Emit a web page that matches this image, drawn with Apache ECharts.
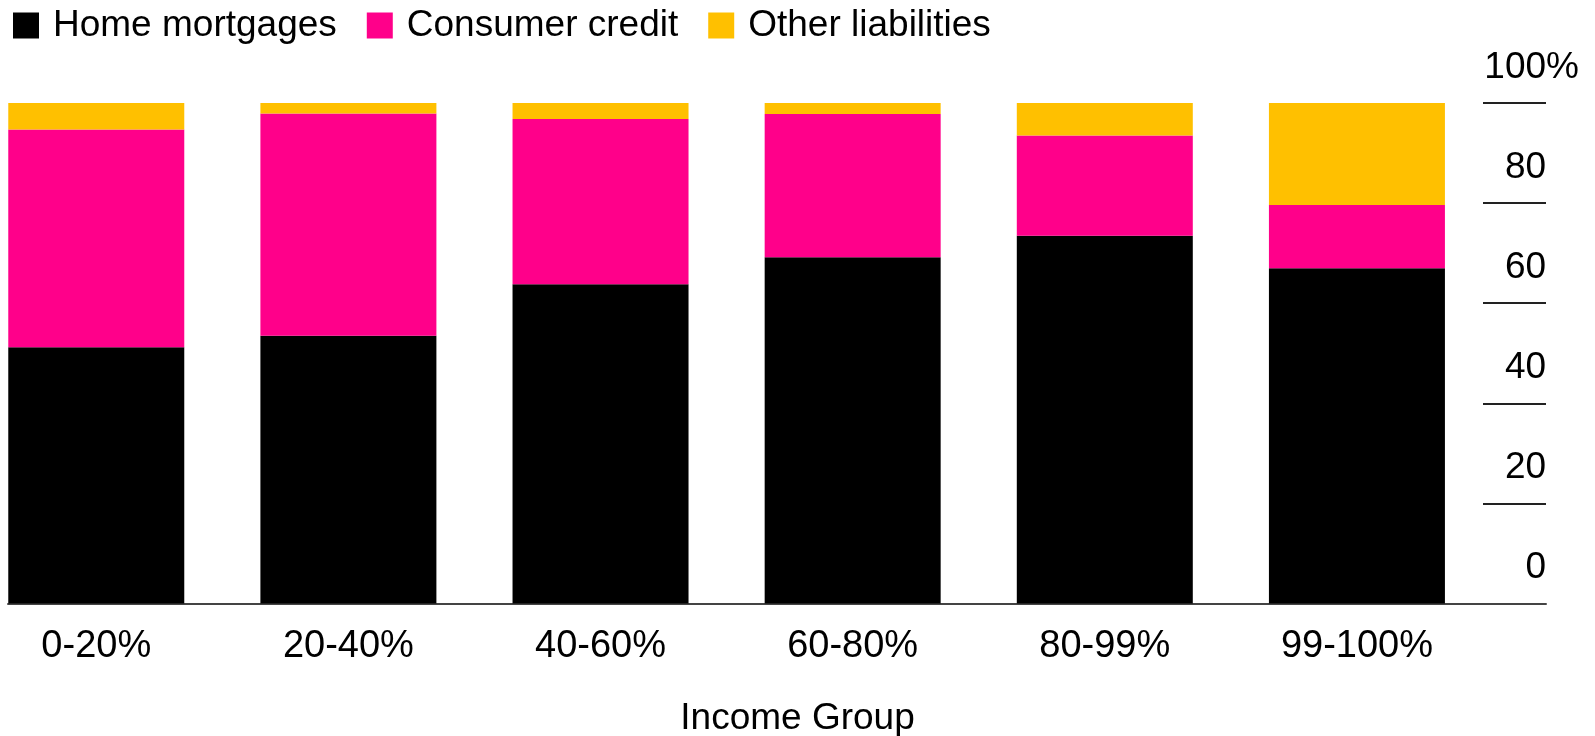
<!DOCTYPE html>
<html>
<head>
<meta charset="utf-8">
<script src="https://cdn.jsdelivr.net/npm/echarts@6/dist/echarts.min.js"></script>
<style>
html,body{margin:0;padding:0;background:#fff;}
#c{width:1595px;height:736px;}
</style>
</head>
<body>
<div id="c"></div>
<script>
const categories = ['0-20%', '20-40%', '40-60%', '60-80%', '80-99%', '99-100%'];
const homeMortgages = [51.2, 53.5, 63.8, 69.2, 73.5, 67.0];
const consumerCredit = [43.5, 44.4, 33.0, 28.6, 20.0, 12.6];
const otherLiabilities = [5.3, 2.1, 3.2, 2.2, 6.5, 20.4];
const yTicks = [0, 20, 40, 60, 80, 100];

const FONT = '"Liberation Sans", Arial, sans-serif';
const chart = echarts.init(document.getElementById('c'));
chart.setOption({
  animation: false,
  backgroundColor: '#fff',
  title: {
    text: 'Income Group',
    left: 'center',
    top: 700,
    padding: 0,
    textStyle: { fontFamily: FONT, fontSize: 37, fontWeight: 'normal', color: '#000', lineHeight: 37 }
  },
  legend: {
    left: 13,
    top: 5,
    padding: 0,
    itemWidth: 26,
    itemHeight: 26,
    itemGap: 30,
    icon: 'rect',
    textStyle: { fontFamily: FONT, fontSize: 37, color: '#000', lineHeight: 37, padding: [4, 0, 0, 9] },
    data: ['Home mortgages', 'Consumer credit', 'Other liabilities']
  },
  grid: [
    { left: -29.8, width: 1512.8, top: 103, bottom: 132.5, outerBoundsMode: 'none', containLabel: false },
    { left: 8, right: 49, top: 103, bottom: 132.5, outerBoundsMode: 'none', containLabel: false },
    { left: 1483, right: 49, top: 103, bottom: 132.5, outerBoundsMode: 'none', containLabel: false }
  ],
  xAxis: [
    {
      gridIndex: 0, type: 'category', data: categories,
      axisLine: { show: false }, axisTick: { show: false },
      axisLabel: { fontFamily: FONT, fontSize: 38, color: '#000', margin: 24, lineHeight: 38 }
    },
    {
      gridIndex: 1, type: 'value', min: 0, max: 1,
      axisLine: { show: true, lineStyle: { color: '#444', width: 2 } },
      axisTick: { show: false }, axisLabel: { show: false }, splitLine: { show: false }
    },
    { gridIndex: 2, type: 'value', min: 0, max: 1, show: false }
  ],
  yAxis: [
    { gridIndex: 0, type: 'value', min: 0, max: 100, show: false },
    { gridIndex: 1, type: 'value', min: 0, max: 100, show: false },
    {
      gridIndex: 2, type: 'value', position: 'right', min: 0, max: 100, interval: 20,
      axisLine: { show: false },
      axisTick: { show: false },
      splitLine: { show: true, lineStyle: { color: '#222', width: 2 } },
      axisLabel: {
        inside: true, margin: -33, fontFamily: FONT, fontSize: 37, color: '#000',
        verticalAlign: 'bottom', lineHeight: 37, padding: [0, 0, 17, 0],
        formatter: function (v) { return v === 100 ? '100{p|%}' : v + '{q|%}'; },
        rich: {
          p: { fontFamily: FONT, fontSize: 37, color: '#000', lineHeight: 37 },
          q: { fontFamily: FONT, fontSize: 37, color: 'rgba(0,0,0,0)', lineHeight: 37 }
        }
      }
    }
  ],
  series: [
    { name: 'Home mortgages', type: 'bar', stack: 't', xAxisIndex: 0, yAxisIndex: 0, barWidth: 176, data: homeMortgages, itemStyle: { color: '#000000' } },
    { name: 'Consumer credit', type: 'bar', stack: 't', xAxisIndex: 0, yAxisIndex: 0, barWidth: 176, data: consumerCredit, itemStyle: { color: '#ff008a' } },
    { name: 'Other liabilities', type: 'bar', stack: 't', xAxisIndex: 0, yAxisIndex: 0, barWidth: 176, data: otherLiabilities, itemStyle: { color: '#ffc000' } }
  ]
});
</script>
</body>
</html>
